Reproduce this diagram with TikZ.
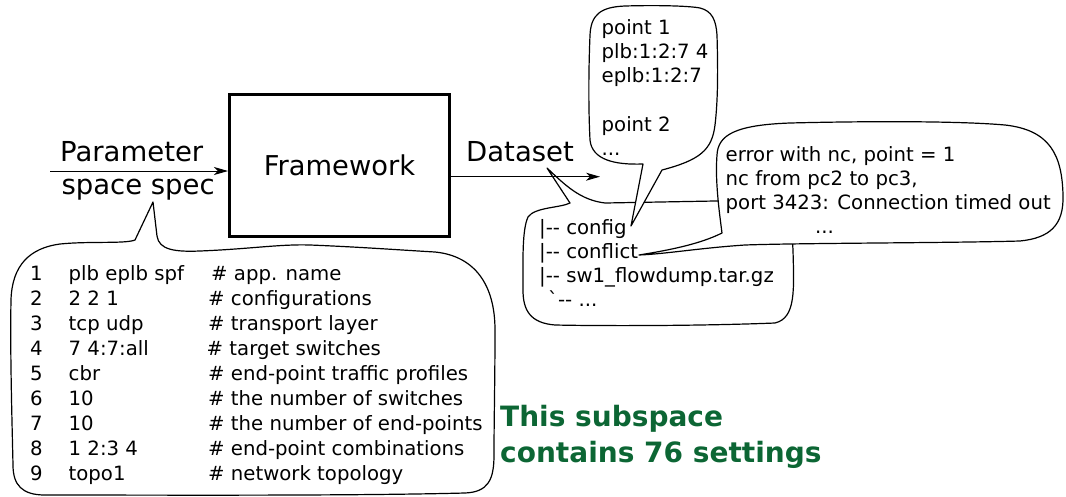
\documentclass[tikz,border=0pt]{standalone}
\usepackage{fontspec}
\setmainfont{DejaVu Sans}[Ligatures=TeXOff]
\usetikzlibrary{arrows.meta}
\definecolor{notegreen}{RGB}{12,102,52}

\begin{document}
\begin{tikzpicture}[x=1pt,y=-1pt,
  callout/.style={draw=black,fill=white,line width=1.2pt,line join=round},
  flow/.style={line width=1pt,-{Stealth[length=14pt,width=8pt,inset=4pt]}},
  lbl/.style={font=\fontsize{27.5}{30}\selectfont,inner sep=0pt,anchor=base west},
  code/.style={font=\fontsize{19.7}{24}\selectfont,inner sep=0pt,anchor=base west},
  note/.style={font=\fontsize{28}{32}\selectfont\bfseries,text=notegreen,inner sep=0pt,anchor=base west},
  block/.style={draw,line width=3pt,minimum width=220pt,minimum height=142pt,
    font=\fontsize{27.3}{30}\selectfont,inner sep=0pt}]

\useasboundingbox (0,0) rectangle (1066,496);

% --- speech bubbles ---------------------------------------------------
% dataset directory listing
\draw[callout] (547,168) .. controls (565,185) and (580,200) .. (605,203)
  -- (715,201) -- (790,201) -- (793,250)
  .. controls (794,290) and (796,318) .. (775,323)
  .. controls (700,326) and (600,326) .. (555,325)
  .. controls (530,323) and (523,310) .. (523,290)
  .. controls (523,260) and (522,230) .. (528,217)
  .. controls (535,207) and (560,208) .. (570,203) -- cycle;

% config contents
\draw[callout] (631,226) -- (643,164)
  .. controls (615,165) and (592,160) .. (590,140)
  .. controls (588,100) and (589,60) .. (590,35)
  .. controls (591,15) and (600,7) .. (625,6)
  .. controls (660,5) and (690,6) .. (700,8)
  .. controls (712,11) and (716,20) .. (717,35)
  .. controls (718,70) and (718,100) .. (715,125)
  .. controls (712,150) and (700,160) .. (662,170) -- cycle;

% conflict contents
\draw[callout] (639,255) .. controls (670,250) and (700,244) .. (722,233)
  .. controls (719,210) and (715,180) .. (717,155)
  .. controls (718,135) and (735,125) .. (790,123)
  .. controls (870,121) and (960,121) .. (1005,125)
  .. controls (1050,130) and (1062,155) .. (1063,195)
  .. controls (1064,225) and (1050,238) .. (1020,241)
  .. controls (950,243) and (800,243) .. (745,245)
  .. controls (700,248) and (665,254) .. cycle;

% parameter space specification
\draw[callout] (153,202) -- (157,236)
  .. controls (159,250) and (175,252) .. (200,251)
  .. controls (250,249) and (280,244) .. (310,245)
  .. controls (360,247) and (400,250) .. (435,252)
  .. controls (475,256) and (495,285) .. (495,330)
  .. controls (495,380) and (494,420) .. (494,455)
  .. controls (494,480) and (488,492) .. (465,493)
  .. controls (350,496) and (150,495) .. (45,495)
  .. controls (22,495) and (13,485) .. (13,465)
  .. controls (12,420) and (10,350) .. (11,300)
  .. controls (12,265) and (30,248) .. (60,244)
  .. controls (90,241) and (125,244) .. (135,240) -- cycle;

% --- main flow ----------------------------------------------------------
\node[block] (fw) at (339.5,165) {Framework};
\coordinate (inStart) at (50,171);
\coordinate (outEnd) at (600,176.7);
\draw[flow] (inStart) -- (inStart -| fw.west);
\draw[flow] (fw.east |- outEnd) -- (outEnd);

\node[lbl] (par1) at (60,161.7) {Parameter};
\node[lbl] (par2) at (61.3,194) {space spec};
\node[lbl] (ds) at (466,161.7) {Dataset};

% --- parameter table ---------------------------------------------------
\foreach \i/\v/\c/\cx in {
  1/plb eplb spf/app. name/211,
  2/2 2 1/configurations/208,
  3/tcp udp/transport layer/208,
  4/7 4:7:all/target switches/206.5,
  5/cbr/end-point traffic profiles/208,
  6/10/the number of switches/208,
  7/10/the number of end-points/208,
  8/1 2:3 4/end-point combinations/208,
  9/topo1/network topology/208}{
  \pgfmathsetmacro{\ry}{280+(\i-1)*25}
  \node[code] (num\i) at (30,\ry) {\i};
  \node[code] (val\i) at (68.5,\ry) {\v};
  \node[code] (cmt\i) at (\cx,\ry) {\# \c};
}

% --- bubble texts --------------------------------------------------------
\node[code] (pt1) at (601.5,34) {point 1};
\node[code] (pt1a) at (601.5,58.3) {plb:1:2:7 4};
\node[code] (pt1b) at (601.5,82.6) {eplb:1:2:7};
\node[code] (pt2) at (601.5,131.2) {point 2};
\node[code] (ptx) at (601.5,155.5) {...};

\node[code] (d1) at (539,234) {|-- config};
\node[code] (d2) at (539,258.3) {|-- conflict};
\node[code] (d3) at (539,282.6) {|-- sw1\_flowdump.tar.gz};
\node[code] (d4) at (548,306.9) {`-- ...};

\node[code] (e1) at (725.5,161.5) {error with nc, point = 1};
\node[code] (e2) at (725.5,185.5) {nc from pc2 to pc3,};
\node[code] (e3) at (725.5,209.5) {port 3423: Connection timed out};
\node[code] (e4) at (815,233.5) {...};

% --- summary note --------------------------------------------------------
\node[note] (n1) at (500,426) {This subspace};
\node[note] (n2) at (500,462.7) {contains 76 settings};
\end{tikzpicture}
\end{document}
